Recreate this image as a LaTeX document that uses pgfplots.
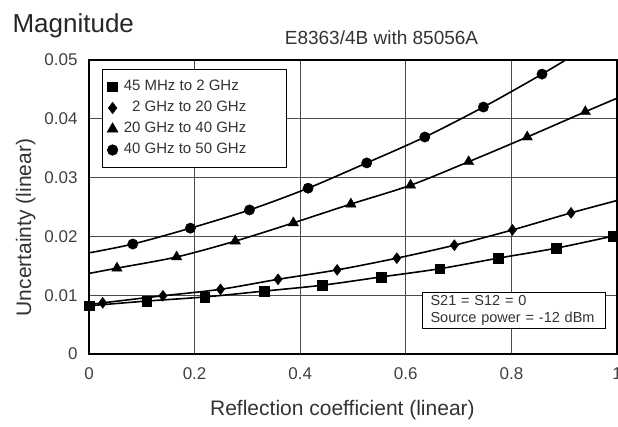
\documentclass[border=0pt]{standalone}
\usepackage{fontspec}
\setmainfont{Liberation Sans}
\usepackage{pgfplots}
\pgfplotsset{compat=1.18}
\begin{document}
\begin{tikzpicture}
\begin{axis}[
  name=ax,
  scale only axis,
  width=528pt, height=294pt,
  xmin=0, xmax=1, ymin=0, ymax=0.05,
  scaled y ticks=false, scaled x ticks=false,
  xtick={0,0.2,0.4,0.6,0.8,1},
  xticklabels={0,0.2,0.4,0.6,0.8,1},
  ytick={0,0.01,0.02,0.03,0.04,0.05},
  yticklabels={0,0.01,0.02,0.03,0.04,0.05},
  major tick length=0pt,
  /pgf/number format/assume math mode=true,
  tick label style={font=\fontsize{17}{20}\selectfont, text=black!75},
  xticklabel style={yshift=-10pt},
  yticklabel style={xshift=-8pt},
  grid=major,
  major grid style={black!70, line width=1.3pt},
  axis line style={black, line width=2pt},
  xlabel={Reflection coefficient (linear)},
  ylabel={Uncertainty (linear)},
  label style={font=\fontsize{21}{24}\selectfont, text=black!80},
  xlabel style={at={(axis description cs:0.48,-0.19)}, anchor=center},
  ylabel style={at={(axis description cs:-0.12,0.43)}, anchor=center, rotate=0},
  title={E8363/4B with 85056A},
  title style={at={(axis description cs:0.554,1.054)}, anchor=center, font=\fontsize{19}{22}\selectfont, text=black!80},
  legend cell align=left,
  legend style={at={(axis description cs:0.0246,0.969)}, anchor=north west,
    draw=black, line width=0.8pt, font=\fontsize{15}{17}\selectfont,
    inner xsep=5pt, inner ysep=7pt, row sep=0pt, column sep=4pt, text=black!80,
    nodes={text height=12pt, text depth=5pt}},
  legend image code/.code={\draw[#1] (0.15cm,0cm) plot coordinates {(0.15cm,0cm)};},
]
% lines
\addplot[black, line width=1.6pt, smooth, no markers, forget plot] coordinates {
(0,0.0082)(0.109,0.0090)(0.219,0.0097)(0.332,0.0107)(0.442,0.0117)(0.553,0.0131)(0.664,0.0145)(0.775,0.0163)(0.885,0.0180)(1.0,0.0202)};
\addplot[black, line width=1.6pt, smooth, no markers, forget plot] coordinates {
(0,0.0084)(0.026,0.0087)(0.14,0.0099)(0.249,0.0110)(0.358,0.0127)(0.47,0.0143)(0.583,0.0163)(0.692,0.0185)(0.802,0.0211)(0.913,0.0240)(1,0.0261)};
\addplot[black, line width=1.6pt, smooth, no markers, forget plot] coordinates {
(0,0.0137)(0.053,0.0146)(0.166,0.0165)(0.277,0.0192)(0.387,0.0223)(0.496,0.0255)(0.609,0.0287)(0.719,0.0327)(0.830,0.0369)(0.940,0.0412)(1,0.0435)};
\addplot[black, line width=1.6pt, smooth, no markers, forget plot] coordinates {
(0,0.0172)(0.083,0.0187)(0.192,0.0214)(0.304,0.0245)(0.415,0.0282)(0.526,0.0325)(0.636,0.0369)(0.747,0.0420)(0.858,0.0476)(0.95,0.0526)};
% markers
\addplot[only marks, mark=square*, mark size=4.8pt, black] coordinates {
(0,0.0082)(0.109,0.0090)(0.219,0.0097)(0.332,0.0107)(0.442,0.0117)(0.553,0.0131)(0.664,0.0145)(0.775,0.0163)(0.885,0.0180)(0.992,0.0200)};
\addlegendentry{\makebox[156pt][l]{45 MHz to 2 GHz}}
\addplot[only marks, mark=diamond*, mark size=5.5pt, black] coordinates {
(0.026,0.0087)(0.14,0.0099)(0.249,0.0110)(0.358,0.0127)(0.47,0.0143)(0.583,0.0163)(0.692,0.0185)(0.802,0.0211)(0.913,0.0240)};
\addlegendentry{\phantom{4}2 GHz to 20 GHz}
\addplot[only marks, mark=triangle*, mark size=6pt, black] coordinates {
(0.053,0.0146)(0.166,0.0165)(0.277,0.0192)(0.387,0.0223)(0.496,0.0255)(0.609,0.0287)(0.719,0.0327)(0.830,0.0369)(0.940,0.0412)};
\addlegendentry{20 GHz to 40 GHz}
\addplot[only marks, mark=*, mark size=5.2pt, black] coordinates {
(0.083,0.0187)(0.192,0.0214)(0.304,0.0245)(0.415,0.0282)(0.526,0.0325)(0.636,0.0369)(0.747,0.0420)(0.858,0.0476)};
\addlegendentry{40 GHz to 50 GHz}
\node[draw=black, line width=0.8pt, fill=white, anchor=south west, inner xsep=8pt, inner ysep=3pt,
  text width=167pt, align=left, font=\fontsize{14.5}{17}\selectfont, text=black!80]
  at (axis cs:0.631,0.00425) {S21 = S12 = 0\\Source power = -12 dBm};
\end{axis}
\node[anchor=base west, font=\fontsize{26}{30}\selectfont, text=black!85]
  at ([shift={(-80pt,27pt)}]ax.north west) {Magnitude};
\pgfresetboundingbox
\path[use as bounding box] ([shift={(-89pt,-73pt)}]ax.south west) rectangle ([shift={(1pt,60pt)}]ax.north east);
\end{tikzpicture}
\end{document}
